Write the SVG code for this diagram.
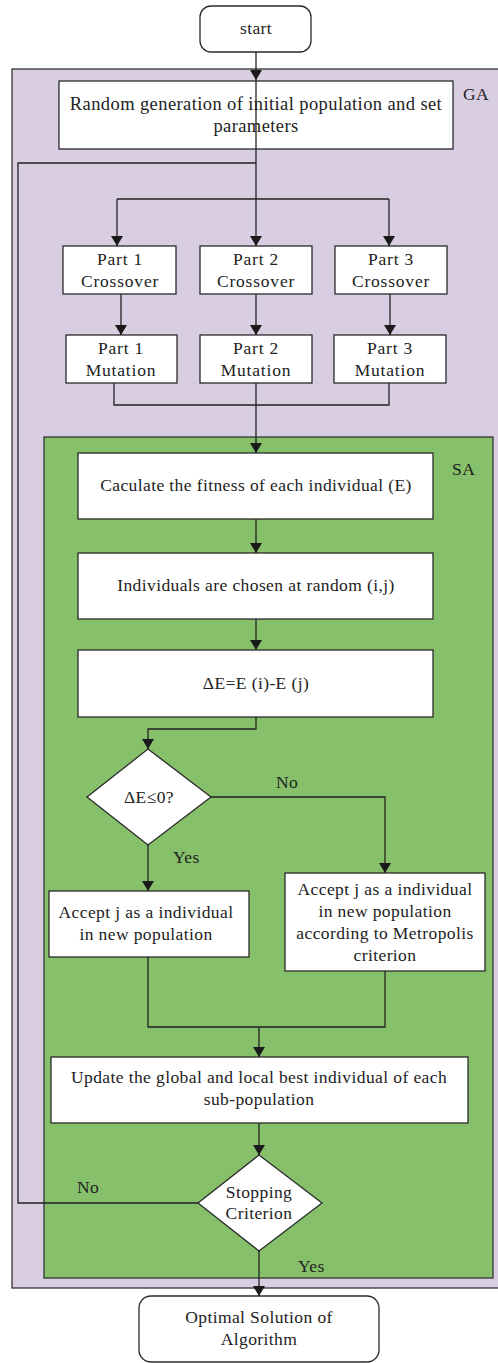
<svg xmlns="http://www.w3.org/2000/svg" width="498" height="1363" viewBox="0 0 498 1363">
<style>
text{font-family:'Liberation Serif','DejaVu Serif',serif;font-size:17.5px;letter-spacing:0.4px;fill:#222;text-anchor:middle}
.box{fill:#fff;stroke:#2a2a2a;stroke-width:1.3}
.ln{fill:none;stroke:#222;stroke-width:1.3}
.lbl{text-anchor:start}
.big{font-size:18.5px}
.part{letter-spacing:0.8px}
</style>
<defs>
<marker id="ah" markerWidth="10" markerHeight="12" refX="10" refY="6" orient="auto" markerUnits="userSpaceOnUse" viewBox="0 0 10 12">
<path d="M0,0 L10,6 L0,12 z" fill="#1a1a1a"/>
</marker>
</defs>
<g id="ga-container">
<rect x="12" y="69" width="490" height="1219" fill="#d9cee1" stroke="#333" stroke-width="1.3"/>
<text x="463" y="100" class="lbl">GA</text>
</g>
<g id="sa-container">
<rect x="44" y="437" width="449" height="841" fill="#86c06a" stroke="#333" stroke-width="1.3"/>
<text x="452" y="475" class="lbl">SA</text>
</g>
<g id="start">
<rect x="200" y="6" width="111" height="46" rx="11" class="box"/>
<text x="256" y="34">start</text>
</g>
<g id="init">
<rect x="59" y="81" width="394" height="68" class="box"/>
<text x="256" y="110" class="big">Random generation of initial population and set</text>
<text x="256" y="132" class="big">parameters</text>
</g>
<g id="cross1"><rect x="63" y="246" width="113" height="48" class="box"/><text x="120" y="265" class="part">Part 1</text><text x="120" y="287" class="part">Crossover</text></g>
<g id="cross2"><rect x="200" y="246" width="112" height="48" class="box"/><text x="256" y="265" class="part">Part 2</text><text x="256" y="287" class="part">Crossover</text></g>
<g id="cross3"><rect x="335" y="246" width="112" height="48" class="box"/><text x="391" y="265" class="part">Part 3</text><text x="391" y="287" class="part">Crossover</text></g>
<g id="mut1"><rect x="66" y="335" width="111" height="48" class="box"/><text x="121" y="354" class="part">Part 1</text><text x="121" y="376" class="part">Mutation</text></g>
<g id="mut2"><rect x="200" y="335" width="112" height="48" class="box"/><text x="256" y="354" class="part">Part 2</text><text x="256" y="376" class="part">Mutation</text></g>
<g id="mut3"><rect x="334" y="335" width="112" height="48" class="box"/><text x="390" y="354" class="part">Part 3</text><text x="390" y="376" class="part">Mutation</text></g>
<g id="fitness"><rect x="78" y="453" width="355" height="66" class="box"/><text x="256" y="491">Caculate the fitness of each individual (E)</text></g>
<g id="choose"><rect x="78" y="553" width="355" height="66" class="box"/><text x="256" y="591">Individuals are chosen at random (i,j)</text></g>
<g id="delta"><rect x="78" y="650" width="355" height="67" class="box"/><text x="256" y="689">ΔE=E (i)-E (j)</text></g>
<g id="dec1"><path d="M148,749 L211,797 L148,845 L87,797 z" class="box"/><text x="149" y="803">ΔE≤0?</text></g>
<g id="accept1"><rect x="49" y="891" width="200" height="66" class="box"/><text x="146" y="918">Accept j as a individual</text><text x="146" y="940">in new population</text></g>
<g id="accept2"><rect x="285" y="873" width="200" height="98" class="box"/><text x="385" y="895">Accept j as a individual</text><text x="385" y="917">in new population</text><text x="385" y="939">according to Metropolis</text><text x="385" y="961">criterion</text></g>
<g id="update"><rect x="51" y="1057" width="417" height="66" class="box"/><text x="259" y="1083">Update the global and local best individual of each</text><text x="259" y="1105">sub-population</text></g>
<g id="stop"><path d="M259,1155 L322,1203 L259,1251 L198,1203 z" class="box"/><text x="259" y="1198">Stopping</text><text x="259" y="1219">Criterion</text></g>
<g id="optimal"><rect x="139" y="1296" width="240" height="66" rx="12" class="box"/><text x="259" y="1323">Optimal Solution of</text><text x="259" y="1345">Algorithm</text></g>
<g id="connectors">
<path d="M256,52 V80" class="ln" marker-end="url(#ah)"/>
<path d="M256,80 V199" class="ln"/>
<path d="M117,199 H389" class="ln"/>
<path d="M117,199 V246" class="ln" marker-end="url(#ah)"/>
<path d="M256,199 V246" class="ln" marker-end="url(#ah)"/>
<path d="M389,199 V246" class="ln" marker-end="url(#ah)"/>
<path d="M121,294 V335" class="ln" marker-end="url(#ah)"/>
<path d="M256,294 V335" class="ln" marker-end="url(#ah)"/>
<path d="M390,294 V335" class="ln" marker-end="url(#ah)"/>
<path d="M114,383 V405 H389 V383" class="ln"/>
<path d="M256,383 V453" class="ln" marker-end="url(#ah)"/>
<path d="M256,519 V553" class="ln" marker-end="url(#ah)"/>
<path d="M256,619 V650" class="ln" marker-end="url(#ah)"/>
<path d="M256,717 V729 H148 V749" class="ln" marker-end="url(#ah)"/>
<path d="M211,797 H385 V873" class="ln" marker-end="url(#ah)"/>
<path d="M148,845 V891" class="ln" marker-end="url(#ah)"/>
<path d="M148,957 V1027 H385 V971" class="ln"/>
<path d="M259,1027 V1057" class="ln" marker-end="url(#ah)"/>
<path d="M259,1123 V1155" class="ln" marker-end="url(#ah)"/>
<path d="M198,1203 H18 V163 H256" class="ln"/>
<path d="M259,1251 V1296" class="ln" marker-end="url(#ah)"/>
<text x="276" y="788" class="lbl">No</text>
<text x="173" y="863" class="lbl">Yes</text>
<text x="77" y="1193" class="lbl">No</text>
<text x="298" y="1272" class="lbl">Yes</text>
</g>
</svg>
